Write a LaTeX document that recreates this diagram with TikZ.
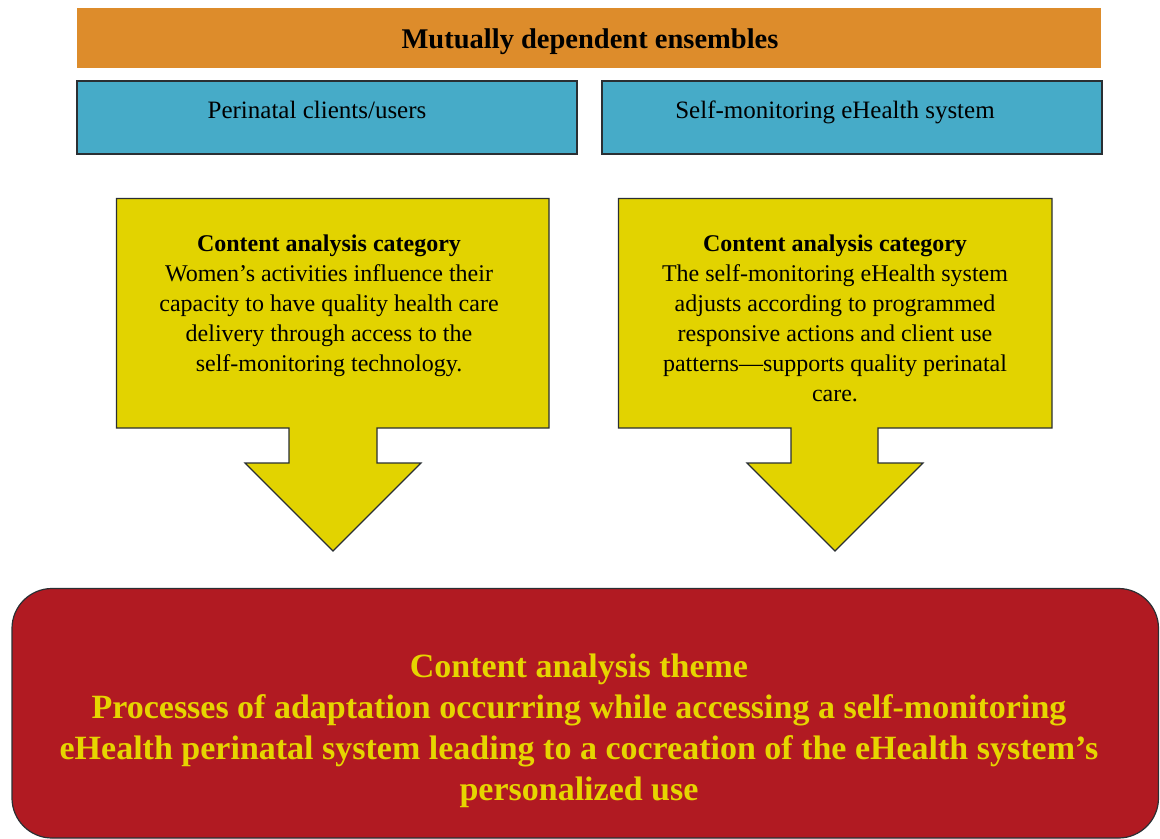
\documentclass[tikz,border=0pt]{standalone}
\usepackage{fontspec}
\setmainfont{Liberation Serif}
\definecolor{barorange}{HTML}{DD8C2B}
\definecolor{ensblue}{HTML}{46ABC8}
\definecolor{catyellow}{HTML}{E2D300}
\definecolor{themered}{HTML}{B11A22}
\definecolor{themetext}{HTML}{E6D500}
\definecolor{edgegray}{HTML}{2A2F33}
\begin{document}
\begin{tikzpicture}[x=1bp,y=-1bp,
  titlebar/.style={fill=barorange,draw=none,minimum width=1024bp,minimum height=60bp,inner sep=0pt},
  ensbox/.style={fill=ensblue,draw=edgegray,line width=1.2bp,minimum width=500bp,minimum height=73bp,inner sep=0pt},
  enstext/.style={font=\fontsize{25bp}{28bp}\selectfont,inner sep=0pt,anchor=base},
  callout/.style={fill=catyellow,draw=edgegray,line width=1.1bp,line join=miter},
  cattext/.style={align=center,font=\fontsize{24bp}{30bp}\selectfont,inner sep=0pt},
  themebox/.style={fill=themered,draw=edgegray,line width=1.2bp,rounded corners=40bp},
  themetxt/.style={align=center,text=themetext,font=\fontsize{34bp}{41bp}\selectfont\bfseries,inner sep=0pt}
]
\useasboundingbox (0,0) rectangle (1160,839);

% top banner
\node[titlebar] (bar) at (589,38) {};
\node[font=\fontsize{28.5bp}{32bp}\selectfont\bfseries,inner sep=0pt] (bartext) at (590,42) {Mutually dependent ensembles};

% the two ensembles
\node[ensbox] (users) at (327,117.5) {};
\node[enstext] (userstext) at (317,118) {Perinatal clients/users};
\node[ensbox] (system) at (852,117.5) {};
\node[enstext] (systemtext) at (835,118) {Self-monitoring eHealth system};

% left callout arrow
\coordinate (L1) at (116.5,198.5);
\coordinate (L2) at (549,198.5);
\coordinate (L3) at (549,428);
\coordinate (L4) at (377,428);
\coordinate (L5) at (377,463);
\coordinate (L6) at (421,463);
\coordinate (L7) at (333,551);
\coordinate (L8) at (245,463);
\coordinate (L9) at (289,463);
\coordinate (L10) at (289,428);
\coordinate (L11) at (116.5,428);
\draw[callout] (L1) -- (L2) -- (L3) -- (L4) -- (L5) -- (L6) -- (L7) -- (L8) -- (L9) -- (L10) -- (L11) -- cycle;
\node[cattext,anchor=north] (lefttext) at (329,235) {\textbf{Content analysis category}\\
Women’s activities influence their\\
capacity to have quality health care\\
delivery through access to the\\
self-monitoring technology.};

% right callout arrow
\coordinate (R1) at (618.5,198.5);
\coordinate (R2) at (1052,198.5);
\coordinate (R3) at (1052,428);
\coordinate (R4) at (878,428);
\coordinate (R5) at (878,463);
\coordinate (R6) at (923,463);
\coordinate (R7) at (835,551);
\coordinate (R8) at (747,463);
\coordinate (R9) at (791,463);
\coordinate (R10) at (791,428);
\coordinate (R11) at (618.5,428);
\draw[callout] (R1) -- (R2) -- (R3) -- (R4) -- (R5) -- (R6) -- (R7) -- (R8) -- (R9) -- (R10) -- (R11) -- cycle;
\node[cattext,anchor=north] (righttext) at (835,235) {\textbf{Content analysis category}\\
The self-monitoring eHealth system\\
adjusts according to programmed\\
responsive actions and client use\\
patterns—supports quality perinatal\\
care.};

% theme box
\draw[themebox] (12,588.5) rectangle (1158.5,838);
\node[themetxt] (theme) at (579,731) {Content analysis theme\\
Processes of adaptation occurring while accessing a self-monitoring\\
eHealth perinatal system leading to a cocreation of the eHealth system’s\\
personalized use};
\end{tikzpicture}
\end{document}
